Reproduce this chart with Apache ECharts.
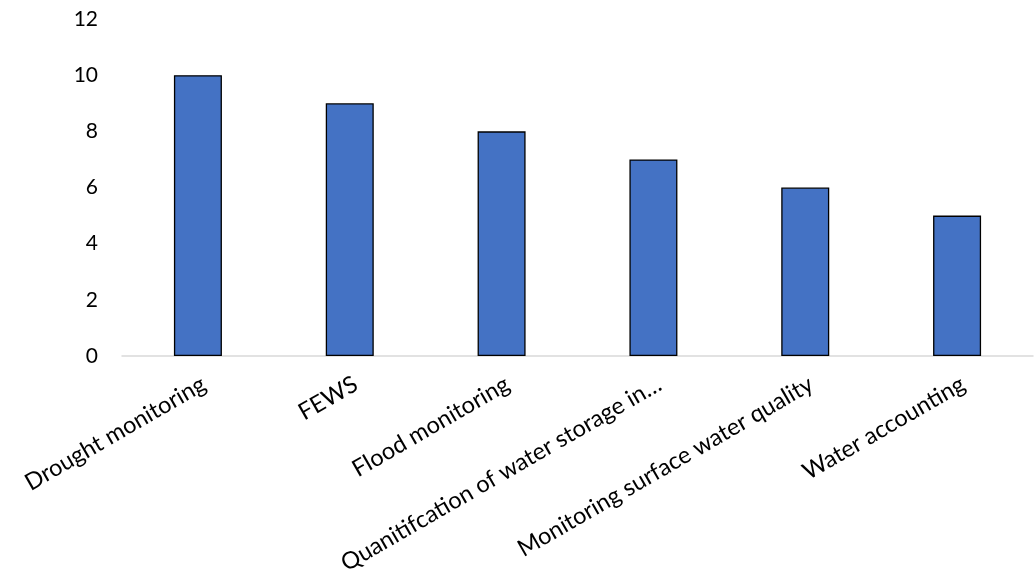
<!DOCTYPE html>
<html><head><meta charset="utf-8">
<script src="https://cdn.jsdelivr.net/npm/echarts@6/dist/echarts.min.js"></script>
<style>html,body{margin:0;padding:0;background:#fff}#c{width:1035px;height:580px}</style>
</head><body><div id="c"></div>
<script>
const categories = ["Drought monitoring","FEWS","Flood monitoring","Quanitifcation of water storage in…","Monitoring surface water quality","Water accounting"];
const values = [10, 9, 8, 7, 6, 5];
const yTicks = {min: 0, max: 12, interval: 2};
const FONT = 'Lato, "Open Sans", sans-serif';
const chart = echarts.init(document.getElementById('c'));
chart.setOption({
  animation: false,
  grid: {left: 122, right: 2, top: 19, bottom: 224, containLabel: false},
  xAxis: {
    type: 'category', data: categories,
    axisLine: {lineStyle: {color: '#d9d9d9', width: 1.5}},
    axisTick: {alignWithLabel: true, length: 6, lineStyle: {color: '#d9d9d9', width: 1.5}},
    axisLabel: {rotate: 30, interval: 0, fontSize: 23.5, color: '#000', fontFamily: FONT, margin: 16, verticalAlign: 'top'}
  },
  yAxis: {
    type: 'value', min: yTicks.min, max: yTicks.max, interval: yTicks.interval,
    splitLine: {show: false}, axisLine: {show: false}, axisTick: {show: false},
    axisLabel: {fontSize: 21, color: '#000', fontFamily: FONT, margin: 24}
  },
  series: [{
    type: 'bar', data: values, barWidth: 48,
    itemStyle: {color: '#4472C4', borderColor: '#000', borderWidth: 1.3}
  }]
});
</script></body></html>
